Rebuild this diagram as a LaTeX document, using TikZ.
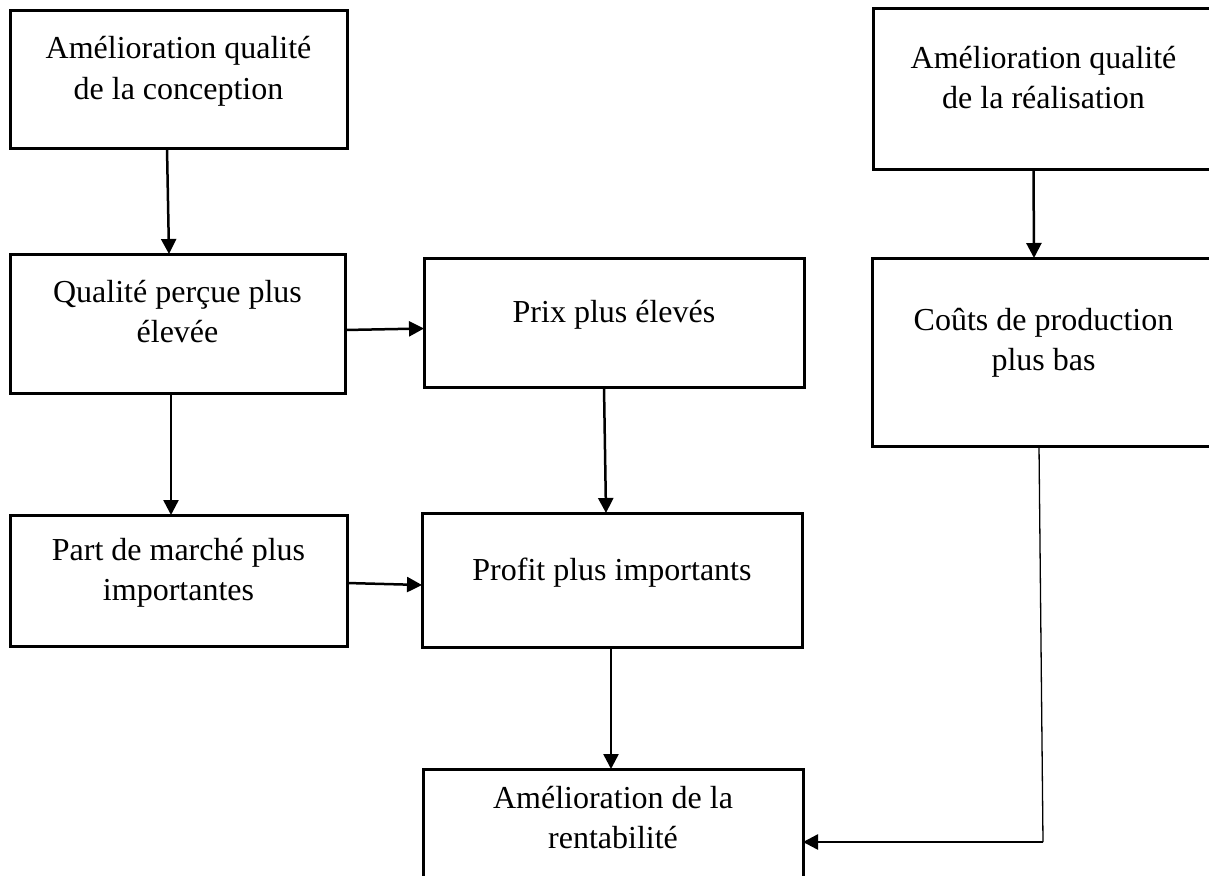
\documentclass[tikz,border=0pt]{standalone}
\usepackage{fontspec}
\setmainfont{Liberation Serif}
\usetikzlibrary{arrows.meta}

\tikzset{
  box/.style={draw=black, line width=3pt, inner sep=0pt, outer sep=0pt,
              anchor=north west, fill=none},
  txt/.style={anchor=base, align=center, inner sep=0pt,
              font=\fontsize{32}{40}\selectfont},
  arr/.style={line width=2.5pt, -{Triangle[length=15pt,width=15pt]}},
  link/.style={line width=1.3pt},
}

\begin{document}
\begin{tikzpicture}[x=1pt, y=-1pt]
  \useasboundingbox[fill=white] (0,0) rectangle (1209,875);
  \clip (0,0) rectangle (1209,875);

  % boxes
  \node[box, minimum width=337pt, minimum height=137pt] (b1) at (10,11) {};
  \node[box, minimum width=341pt, minimum height=160pt] (b2) at (873,9) {};
  \node[box, minimum width=335pt, minimum height=139pt] (b3) at (10,254) {};
  \node[box, minimum width=380pt, minimum height=129pt] (b4) at (424,258) {};
  \node[box, minimum width=343pt, minimum height=188pt] (b5) at (872,258) {};
  \node[box, minimum width=337pt, minimum height=131pt] (b6) at (10,515) {};
  \node[box, minimum width=380pt, minimum height=134pt] (b7) at (422,513) {};
  \node[box, minimum width=380pt, minimum height=131pt] (b8) at (423,769) {};

  % labels (a two-line label sits on the baseline of its last line)
  \node[txt] (t1) at ([yshift=-88pt]b1.north) {Amélioration qualité\\de la conception};
  \node[txt] (t2) at ([yshift=-99pt]b2.north) {Amélioration qualité\\de la réalisation};
  \node[txt] (t3) at ([yshift=-88pt]b3.north) {Qualité perçue plus\\élevée};
  \node[txt] (t4) at ([yshift=-64pt]b4.north) {Prix plus élevés};
  \node[txt] (t5) at ([yshift=-112pt]b5.north) {Coûts de production\\plus bas};
  \node[txt] (t6) at ([yshift=-85pt]b6.north) {Part de marché plus\\importantes};
  \node[txt] (t7) at ([yshift=-67pt]b7.north) {Profit plus importants};
  \node[txt] (t8) at ([yshift=-79pt]b8.north) {Amélioration de la\\rentabilité};

  % connectors
  \draw[arr] ([xshift=-11.5pt]b1.south) -- ([xshift=-8.5pt]b3.north);
  \draw[arr] ([xshift=-10pt]b2.south) -- ([xshift=-9.5pt]b5.north);
  \draw[arr] ([yshift=-6.5pt]b3.east) -- ([yshift=-6pt]b4.west);
  \draw[arr] ([xshift=-6.5pt]b3.south) -- ([xshift=-7.5pt]b6.north);
  \draw[arr] ([xshift=-10pt]b4.south) -- ([xshift=-6pt]b7.north);
  \draw[arr] ([yshift=-2.5pt]b6.east) -- ([yshift=-5pt]b7.west);
  \draw[arr] ([xshift=-1pt]b7.south) -- ([xshift=-2pt]b8.north);

  \coordinate (turn) at (1043,842);
  \draw[link] ([xshift=-4.5pt]b5.south) -- (turn);
  \draw[arr] (turn) -- (b8.east |- turn);
\end{tikzpicture}
\end{document}
